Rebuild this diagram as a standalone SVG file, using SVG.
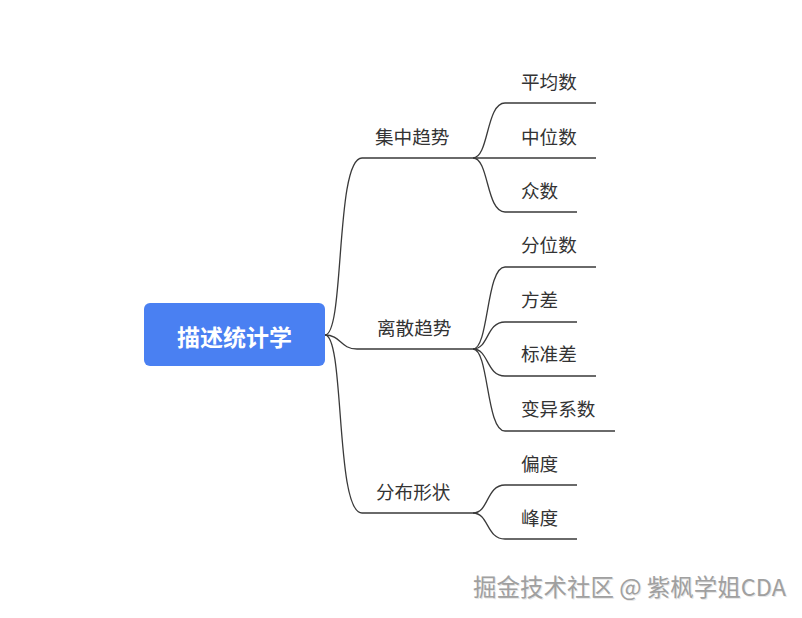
<svg xmlns="http://www.w3.org/2000/svg" width="802" height="618" viewBox="0 0 802 618">
<style>
.t{font-family:"Noto Sans CJK SC","Noto Sans",sans-serif;font-size:18.6px;fill:#333}
.c{fill:none;stroke:#3a3a3a;stroke-width:1.3}
.wm{font-family:"Noto Sans CJK SC","Noto Sans",sans-serif;font-size:23.5px}
</style>
<rect width="802" height="618" fill="#fff"/>
<g id="connectors">
<path class="c" d="M325,335 C345,335 335,158 362,158 L473,158"/>
<path class="c" d="M325,335 C341,335 340,349 357,349 L473,349"/>
<path class="c" d="M325,335 C345,335 335,513 362,513 L473,513"/>
<path class="c" d="M473,158 C489,158 486,103 505,103 L596,103"/>
<path class="c" d="M473,158 L596,158"/>
<path class="c" d="M473,158 C489,158 486,212 505,212 L577,212"/>
<path class="c" d="M473,349 C489,349 486,267 505,267 L596,267"/>
<path class="c" d="M473,349 C489,349 486,322 505,322 L577,322"/>
<path class="c" d="M473,349 C489,349 486,376 505,376 L596,376"/>
<path class="c" d="M473,349 C489,349 486,431 505,431 L615,431"/>
<path class="c" d="M473,513 C489,513 486,485 505,485 L577,485"/>
<path class="c" d="M473,513 C489,513 486,539 505,539 L577,539"/>
</g>
<g id="root">
<rect x="144" y="303" width="181" height="63" rx="6" fill="#4a80f2"/>
<text x="234.5" y="345.5" text-anchor="middle" style="font-family:'Noto Sans CJK SC','Noto Sans',sans-serif;font-size:23px;font-weight:bold;fill:#fff">描述统计学</text>
</g>
<g id="n-jizhong"><text class="t" x="375" y="144">集中趋势</text></g>
<g id="n-lisan"><text class="t" x="377" y="335">离散趋势</text></g>
<g id="n-fenbu"><text class="t" x="376" y="499">分布形状</text></g>
<g id="n-pingjun"><text class="t" x="521" y="89">平均数</text></g>
<g id="n-zhongwei"><text class="t" x="521" y="144">中位数</text></g>
<g id="n-zhong"><text class="t" x="521" y="198">众数</text></g>
<g id="n-fenwei"><text class="t" x="521" y="252">分位数</text></g>
<g id="n-fangcha"><text class="t" x="521" y="307">方差</text></g>
<g id="n-biaozhun"><text class="t" x="521" y="361">标准差</text></g>
<g id="n-bianyi"><text class="t" x="521" y="416">变异系数</text></g>
<g id="n-piandu"><text class="t" x="521" y="471">偏度</text></g>
<g id="n-fengdu"><text class="t" x="521" y="525">峰度</text></g>
<g id="watermark">
<text class="wm" x="474" y="597" fill="#e6e6e6">掘金技术社区 @ 紫枫学姐CDA</text>
<text class="wm" x="473" y="596" fill="#a0a0a0">掘金技术社区 @ 紫枫学姐CDA</text>
</g>
</svg>
